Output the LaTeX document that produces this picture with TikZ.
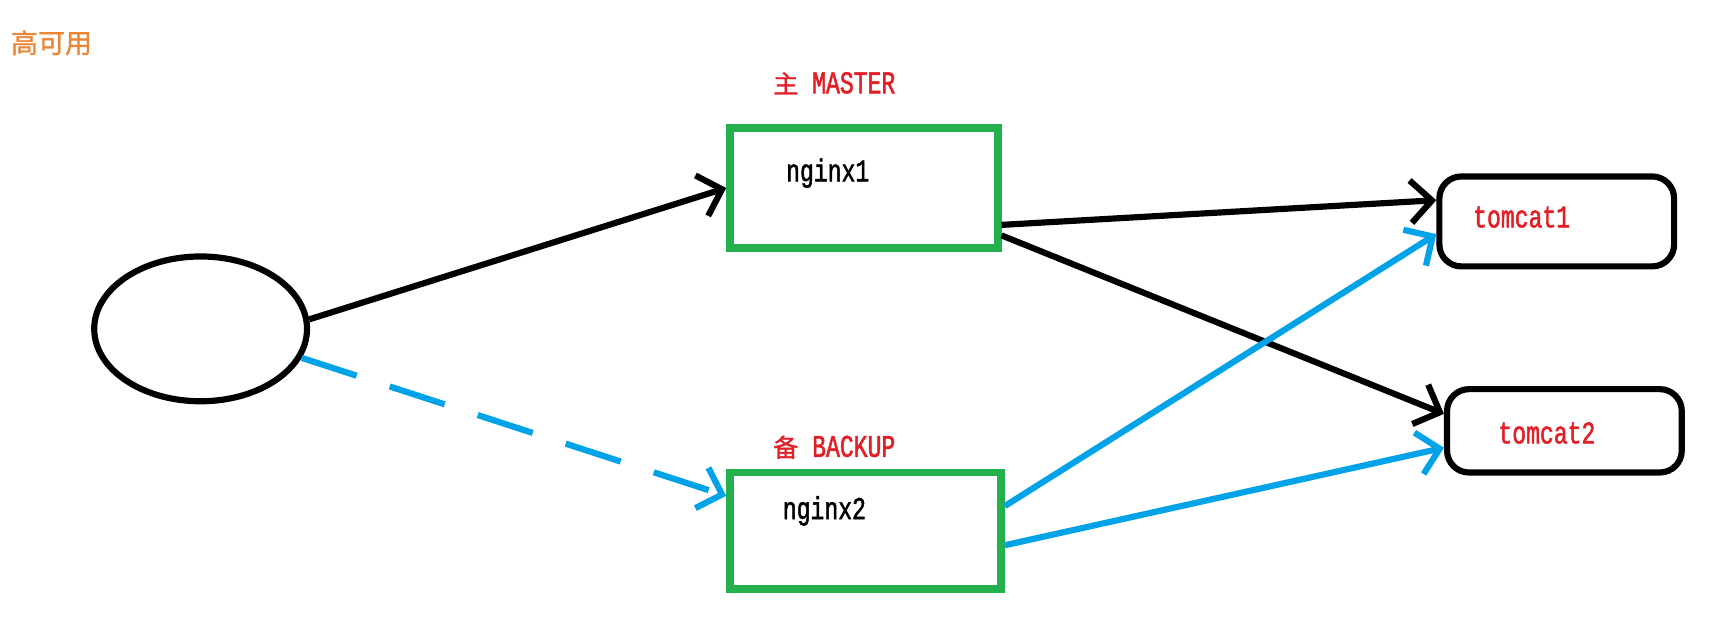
\documentclass[tikz,border=0pt]{standalone}
\usepackage{fontspec}
\usepackage{tikz}
\usetikzlibrary{shapes.geometric, arrows.meta}
\newfontfamily\cjk[FakeBold=1.2]{Noto Sans CJK SC}
\newfontfamily\latfont[FakeStretch=0.73,FakeBold=1.5]{Liberation Mono}
\definecolor{paintgreen}{RGB}{34,177,76}
\definecolor{paintblue}{RGB}{0,162,232}
\definecolor{paintred}{RGB}{226,30,38}
\definecolor{paintorange}{RGB}{233,135,55}
\tikzstyle{server} = [draw=paintgreen, line width=2pt, rectangle, inner sep=0pt]
\tikzstyle{app} = [draw, line width=1.6pt, rectangle, rounded corners=0.2cm, inner sep=0pt]
\tikzstyle{arrow} = [line width=1.6pt,-{Straight Barb[length=5.5pt,width=11pt]}]
\tikzstyle{lbl} = [font=\latfont\fontsize{8.2}{10}\selectfont, inner sep=0pt]

\begin{document}
\begin{tikzpicture}[x=0.01cm,y=-0.01cm]
	\useasboundingbox (0,0) rectangle (1568,565.6);
	\node[inner sep=0pt, text=paintorange, font=\cjk\fontsize{7}{8}\selectfont] (title) at (47,39) {高可用};
	% client
	\node[ellipse, draw, line width=1.6pt, minimum width=1.94cm, minimum height=1.32cm] (client) at (183,300) {};
	% nginx
	\node[server, minimum width=2.44cm, minimum height=1.09cm] (nginxa) at (788,171.5) {};
	\node[server, minimum width=2.47cm, minimum height=1.06cm] (nginxb) at (789.5,484) {};
	\node[lbl, text=paintred] (master) at (761,76) {{\cjk\fontsize{6.5}{8}\selectfont 主} MASTER};
	\node[lbl, text=paintred] (backup) at (761,408) {{\cjk\fontsize{6.5}{8}\selectfont 备} BACKUP};
	\node[lbl] (nginxatext) at (755,158) {nginx1};
	\node[lbl] (nginxbtext) at (752,466) {nginx2};
	% tomcat
	\node[app, minimum width=2.14cm, minimum height=0.82cm] (tomcata) at (1420,202) {};
	\node[app, minimum width=2.14cm, minimum height=0.76cm] (tomcatb) at (1427,393) {};
	\node[lbl, text=paintred] (tomcatatext) at (1388,198) {tomcat1};
	\node[lbl, text=paintred] (tomcatbtext) at (1411,395) {tomcat2};
	% arrows
	\draw[arrow] (client.5) -- (nginxa.west);
	\draw[arrow, draw=paintblue, dash pattern=on 15pt off 9pt] (client.-16) -- (nginxb.166);
	\draw[arrow] (nginxa.-15) -- (tomcata.170);
	\draw[arrow] (nginxa.-19) -- (tomcatb.172);
	\draw[arrow, draw=paintblue] (nginxb.10) -- (tomcata.186);
	\draw[arrow, draw=paintblue] (nginxb.-6) -- (tomcatb.188);
\end{tikzpicture}
\end{document}
